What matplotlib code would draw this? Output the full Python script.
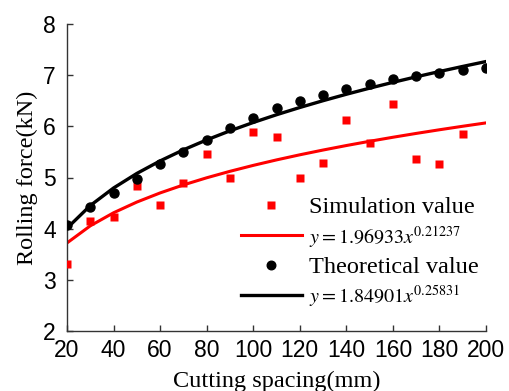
import numpy as np
import matplotlib
matplotlib.use("Agg")
import matplotlib.pyplot as plt

plt.rcParams['mathtext.fontset'] = 'stix'

spacing = [20, 30, 40, 50, 60, 70, 80, 90, 100, 110, 120, 130, 140, 150, 160, 170, 180, 190, 200]
theory = [4.08, 4.43, 4.69, 4.97, 5.26, 5.49, 5.73, 5.96, 6.17, 6.35, 6.50, 6.62, 6.72,
          6.82, 6.92, 6.98, 7.04, 7.10, 7.14]
sim_spacing = [20, 30, 40, 50, 60, 70, 80, 90, 100, 110, 120, 130, 140, 150, 160, 170, 180, 190]
simulation = [3.31, 4.15, 4.23, 4.84, 4.46, 4.90, 5.46, 5.00, 5.89, 5.80, 5.00, 5.28, 6.13,
              5.67, 6.43, 5.37, 5.26, 5.85]

# fitted power laws shown in the legend: y = a * x^b
sim_fit = (1.96933, 0.21237)
theory_fit = (1.84901, 0.25831)

x = np.array(spacing, dtype=float)
sim_curve = sim_fit[0] * x ** sim_fit[1]
theory_curve = theory_fit[0] * x ** theory_fit[1]

fig = plt.figure(figsize=(5.09, 3.91), dpi=100)
ax = fig.add_axes([67 / 509, 60 / 391, 419 / 509, 307 / 391])

h1, = ax.plot(sim_spacing, simulation, 's', color='#ff0000', ms=6, mec='none', zorder=3)
h2, = ax.plot(x, sim_curve, '-', color='#ff0000', lw=2.2, zorder=2)
h3, = ax.plot(spacing, theory, 'o', color='black', ms=6.5, zorder=3)
h4, = ax.plot(x, theory_curve, '-', color='black', lw=2.4, zorder=2)

ax.set_xlim(20, 200)
ax.set_ylim(2, 8)
ax.set_xticks(np.arange(20, 201, 20))
ax.set_yticks(np.arange(2, 9, 1))

for s in ['top', 'right']:
    ax.spines[s].set_visible(False)
for s in ['left', 'bottom']:
    ax.spines[s].set_linewidth(1.0)
    ax.spines[s].set_color('#333333')

ax.tick_params(direction='in', length=4, width=1, color='#333333')
ax.tick_params(axis='x', pad=6)
ax.tick_params(axis='y', pad=8)
for lab in ax.get_xticklabels() + ax.get_yticklabels():
    lab.set_fontfamily('Liberation Sans')
    lab.set_fontsize(16.5)

ax.set_xlabel('Cutting spacing(mm)', family='Liberation Serif', fontsize=17.5, labelpad=6)
ax.set_ylabel('Rolling force(kN)', family='Liberation Serif', fontsize=17.5, labelpad=4)

labels = ['Simulation value',
          r'$y = 1.96933x^{0.21237}$',
          'Theoretical value',
          r'$y = 1.84901x^{0.25831}$']
leg = ax.legend([h1, h2, h3, h4], labels, loc='upper left',
                bbox_to_anchor=(241 / 509, 1 - 196 / 391), bbox_transform=fig.transFigure,
                frameon=False, borderpad=0, borderaxespad=0, handlelength=2.5,
                handletextpad=0.3, labelspacing=0.25, markerscale=0.95,
                prop={'family': 'Liberation Serif', 'size': 17.5})
for i, t in enumerate(leg.get_texts()):
    if i % 2 == 1:
        t.set_fontsize(14.5)

fig.savefig('out.png', dpi=100)
